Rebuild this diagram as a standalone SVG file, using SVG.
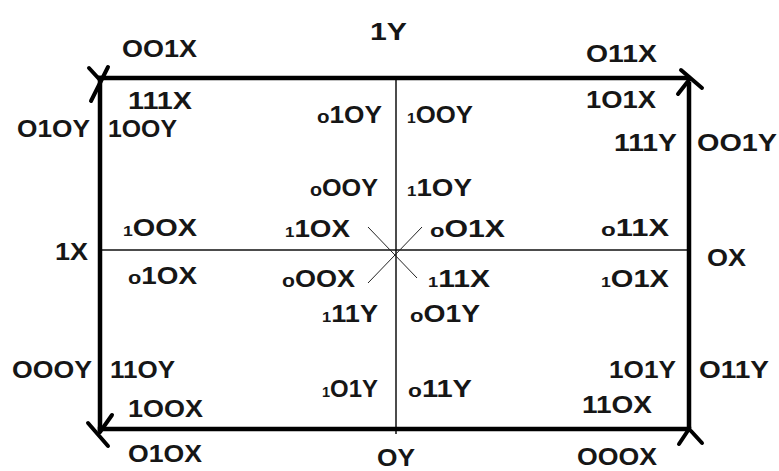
<svg xmlns="http://www.w3.org/2000/svg" width="779" height="471" viewBox="0 0 779 471">
<style>
.t{font-family:"Liberation Sans",Arial,sans-serif;font-weight:bold;font-size:23px;fill:#161616}
.s{font-size:18px}
.u{font-size:14px}
.edge{stroke:#000;stroke-width:4.5;fill:none;stroke-linecap:square}
.thin{stroke:#111;stroke-width:1.5;fill:none}
.diag{stroke:#222;stroke-width:1;fill:none}
.head{stroke:#000;stroke-width:4;fill:none;stroke-linecap:round}
</style>
<rect width="779" height="471" fill="#fff"/>
<g id="connectors">
<line class="thin" x1="396" y1="78" x2="396" y2="434"/>
<line class="thin" x1="100" y1="250" x2="689" y2="250"/>
<line class="diag" x1="368" y1="227" x2="417" y2="278"/>
<line class="diag" x1="422" y1="227" x2="368" y2="283"/>
<line class="edge" x1="100" y1="78" x2="688" y2="78"/>
<line class="edge" x1="689" y1="84" x2="689" y2="429"/>
<line class="edge" x1="100" y1="78" x2="100" y2="429"/>
<line class="edge" x1="100" y1="429" x2="689" y2="429"/>
<path class="head" d="M89,68 L100,80 M108,67 L91,101"/>
<path class="head" d="M681,70 L702,88 M678,94 L689,80"/>
<path class="head" d="M88,423 L108,446 M112,415 L100,432"/>
<path class="head" d="M689,429 L679,444 M691,431 L702,443"/>
</g>
<g id="labels">
<text class="t" x="122" y="57" textLength="75" lengthAdjust="spacingAndGlyphs">OO1X</text>
<text class="t" x="370" y="40" textLength="37" lengthAdjust="spacingAndGlyphs">1Y</text>
<text class="t" x="586" y="62" textLength="71" lengthAdjust="spacingAndGlyphs">O11X</text>
<text class="t" x="128" y="109" textLength="64" lengthAdjust="spacingAndGlyphs">111X</text>
<text class="t" x="17" y="137" textLength="73" lengthAdjust="spacingAndGlyphs">O1OY</text>
<text class="t" x="108" y="137" textLength="69" lengthAdjust="spacingAndGlyphs">1OOY</text>
<text class="t" x="317" y="123" textLength="65" lengthAdjust="spacingAndGlyphs"><tspan class="s">o</tspan>1OY</text>
<text class="t" x="407" y="123" textLength="66" lengthAdjust="spacingAndGlyphs"><tspan class="u">1</tspan>OOY</text>
<text class="t" x="586" y="108" textLength="70" lengthAdjust="spacingAndGlyphs">1O1X</text>
<text class="t" x="614" y="151" textLength="63" lengthAdjust="spacingAndGlyphs">111Y</text>
<text class="t" x="697" y="151" textLength="80" lengthAdjust="spacingAndGlyphs">OO1Y</text>
<text class="t" x="310" y="196" textLength="68" lengthAdjust="spacingAndGlyphs"><tspan class="s">o</tspan>OOY</text>
<text class="t" x="407" y="196" textLength="65" lengthAdjust="spacingAndGlyphs"><tspan class="u">1</tspan>1OY</text>
<text class="t" x="55" y="260" textLength="33" lengthAdjust="spacingAndGlyphs">1X</text>
<text class="t" x="123" y="236" textLength="74" lengthAdjust="spacingAndGlyphs"><tspan class="u">1</tspan>OOX</text>
<text class="t" x="285" y="237" textLength="65" lengthAdjust="spacingAndGlyphs"><tspan class="u">1</tspan>1OX</text>
<text class="t" x="430" y="237" textLength="75" lengthAdjust="spacingAndGlyphs"><tspan class="s">o</tspan>O1X</text>
<text class="t" x="601" y="236" textLength="68" lengthAdjust="spacingAndGlyphs"><tspan class="s">o</tspan>11X</text>
<text class="t" x="707" y="266" textLength="39" lengthAdjust="spacingAndGlyphs">OX</text>
<text class="t" x="128" y="284" textLength="69" lengthAdjust="spacingAndGlyphs"><tspan class="s">o</tspan>1OX</text>
<text class="t" x="282" y="287" textLength="73" lengthAdjust="spacingAndGlyphs"><tspan class="s">o</tspan>OOX</text>
<text class="t" x="428" y="287" textLength="62" lengthAdjust="spacingAndGlyphs"><tspan class="u">1</tspan>11X</text>
<text class="t" x="601" y="287" textLength="68" lengthAdjust="spacingAndGlyphs"><tspan class="u">1</tspan>O1X</text>
<text class="t" x="322" y="322" textLength="56" lengthAdjust="spacingAndGlyphs"><tspan class="u">1</tspan>11Y</text>
<text class="t" x="410" y="322" textLength="70" lengthAdjust="spacingAndGlyphs"><tspan class="s">o</tspan>O1Y</text>
<text class="t" x="12" y="378" textLength="80" lengthAdjust="spacingAndGlyphs">OOOY</text>
<text class="t" x="110" y="378" textLength="65" lengthAdjust="spacingAndGlyphs">11OY</text>
<text class="t" x="609" y="378" textLength="67" lengthAdjust="spacingAndGlyphs">1O1Y</text>
<text class="t" x="699" y="378" textLength="70" lengthAdjust="spacingAndGlyphs">O11Y</text>
<text class="t" x="322" y="397" textLength="56" lengthAdjust="spacingAndGlyphs"><tspan class="u">1</tspan>O1Y</text>
<text class="t" x="408" y="397" textLength="64" lengthAdjust="spacingAndGlyphs"><tspan class="s">o</tspan>11Y</text>
<text class="t" x="128" y="417" textLength="75" lengthAdjust="spacingAndGlyphs">1OOX</text>
<text class="t" x="582" y="413" textLength="70" lengthAdjust="spacingAndGlyphs">11OX</text>
<text class="t" x="128" y="462" textLength="74" lengthAdjust="spacingAndGlyphs">O1OX</text>
<text class="t" x="377" y="466" textLength="38" lengthAdjust="spacingAndGlyphs">OY</text>
<text class="t" x="577" y="465" textLength="80" lengthAdjust="spacingAndGlyphs">OOOX</text>
</g>
</svg>
